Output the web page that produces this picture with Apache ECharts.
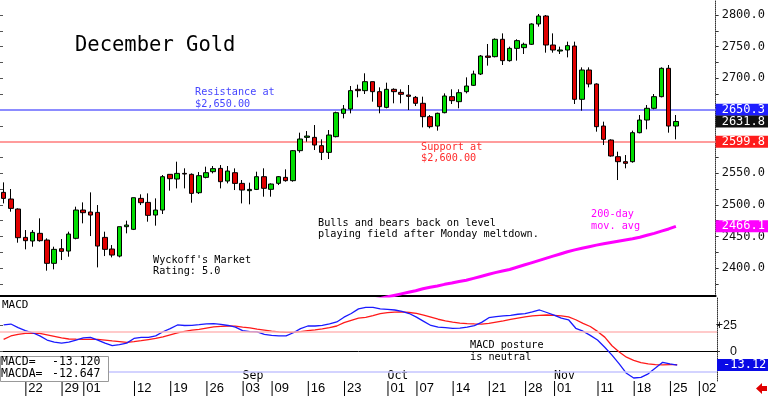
<!DOCTYPE html>
<html><head><meta charset="utf-8">
<script src="https://cdn.jsdelivr.net/npm/echarts@6/dist/echarts.min.js"></script>
<style>html,body{margin:0;padding:0;background:#fff}#c{width:768px;height:396px}</style>
</head><body><div id="c"></div>
<script>
const dates = ['07-17','07-18','07-19','07-22','07-23','07-24','07-25','07-26','07-29','07-30','07-31',
'08-01','08-02','08-05','08-06','08-07','08-08','08-09','08-12','08-13','08-14','08-15','08-16','08-19','08-20','08-21','08-22','08-23','08-26','08-27','08-28','08-29','08-30',
'09-03','09-04','09-05','09-06','09-09','09-10','09-11','09-12','09-13','09-16','09-17','09-18','09-19','09-20','09-23','09-24','09-25','09-26','09-27','09-30',
'10-01','10-02','10-03','10-04','10-07','10-08','10-09','10-10','10-11','10-14','10-15','10-16','10-17','10-18','10-21','10-22','10-23','10-24','10-25','10-28','10-29','10-30','10-31',
'11-01','11-04','11-05','11-06','11-07','11-08','11-11','11-12','11-13','11-14','11-15','11-18','11-19','11-20','11-21','11-22','11-25','11-26','11-27','11-29',
'12-02','12-03','12-04'];
const tickDates = ['07-22','07-29','08-01','08-12','08-19','08-26','09-03','09-09','09-16','09-23','10-01','10-07','10-14','10-21','10-28','11-01','11-11','11-18','11-25','12-02'];
const monthLabels = {'09-03':'Sep','10-01':'Oct','11-01':'Nov'};

const opens = [2519.8,2509.3,2493.5,2448.7,2443.0,2455.1,2444.5,2407.7,2430.8,2427.1,
2447.2,2491.9,2488.8,2488.2,2448.7,2430.3,2419.2,2465.6,2461.4,2510.3,
2504.0,2484.0,2491.9,2548.3,2540.9,2549.8,2548.3,2519.3,2543.5,2552.5,
2557.7,2537.7,2550.9,2534.0,2522.5,2524.5,2544.6,2524.6,2534.1,2543.5,
2538.3,2585.7,2606.7,2606.7,2593.6,2583.0,2607.8,2644.6,2651.5,2682.6,
2680.5,2694.7,2678.9,2654.1,2682.6,2677.8,2673.6,2669.9,2660.5,2639.4,
2624.6,2645.7,2671.0,2663.1,2678.9,2688.9,2706.8,2735.2,2734.2,2761.6,
2727.9,2747.3,2748.4,2753.7,2785.8,2798.4,2752.6,2743.1,2744.7,2751.0,
2666.8,2713.1,2691.0,2624.6,2602.5,2576.2,2568.3,2568.3,2614.1,2634.1,
2652.6,2671.0,2715.8,2624.6];
const closes = [2510.3,2494.5,2448.2,2443.5,2456.6,2443.5,2407.7,2429.8,2426.6,2454.0,
2491.9,2487.7,2484.0,2435.0,2429.8,2420.8,2465.6,2468.2,2511.4,2503.5,
2483.5,2491.9,2544.6,2541.4,2549.8,2548.8,2518.2,2546.2,2550.9,2557.3,
2536.7,2553.5,2534.0,2523.5,2524.5,2544.6,2526.2,2533.0,2544.6,2538.3,
2585.7,2604.1,2608.8,2594.6,2583.0,2610.4,2645.7,2651.5,2680.5,2680.5,
2694.7,2678.9,2655.2,2682.6,2678.9,2674.7,2671.5,2660.5,2639.4,2623.6,
2644.7,2672.0,2664.7,2677.3,2687.8,2706.8,2735.2,2733.1,2761.6,2727.9,
2747.3,2759.5,2753.7,2785.8,2798.4,2752.6,2744.7,2744.7,2751.6,2666.8,
2713.1,2691.0,2623.6,2603.6,2577.3,2568.3,2565.7,2614.1,2634.1,2652.6,
2671.0,2715.8,2624.6,2631.8];
const lows = [2502.4,2489.3,2440.3,2429.8,2434.0,2441.9,2396.1,2398.2,2412.9,2418.2,
2445.6,2470.9,2450.8,2401.3,2419.2,2417.1,2417.1,2455.1,2460.3,2499.8,
2473.5,2467.2,2485.6,2522.5,2526.1,2526.1,2503.5,2517.2,2541.9,2549.8,
2526.1,2534.0,2523.5,2502.4,2500.9,2523.5,2513.0,2513.0,2531.4,2536.7,
2536.7,2582.5,2599.9,2586.7,2570.9,2572.5,2606.7,2636.7,2644.6,2670.0,
2675.2,2663.1,2644.7,2652.6,2660.5,2660.5,2649.9,2656.2,2622.5,2621.0,
2617.3,2644.7,2659.4,2652.6,2676.2,2687.8,2705.2,2720.0,2733.1,2721.0,
2726.3,2727.9,2738.4,2752.6,2781.6,2740.5,2740.5,2738.4,2733.1,2659.4,
2648.9,2685.7,2615.7,2594.6,2576.2,2539.3,2557.8,2566.7,2613.1,2619.4,
2651.0,2669.9,2614.1,2603.6];
const highs = [2535.6,2525.1,2494.5,2460.3,2460.3,2478.8,2447.2,2434.0,2446.1,2457.7,
2497.2,2504.0,2519.8,2499.8,2457.7,2436.6,2465.6,2475.1,2511.4,2516.7,
2518.2,2510.3,2547.2,2548.3,2568.3,2557.8,2549.8,2551.9,2560.4,2561.4,
2563.0,2561.4,2557.7,2539.3,2535.1,2552.5,2557.8,2534.0,2545.6,2556.2,
2586.7,2614.1,2616.7,2626.2,2603.6,2618.3,2647.3,2657.8,2687.8,2690.0,
2707.9,2694.7,2685.7,2693.1,2684.2,2682.6,2689.4,2672.0,2671.0,2642.0,
2645.7,2676.2,2682.6,2682.6,2701.5,2712.1,2736.8,2754.2,2763.1,2771.0,
2750.0,2761.6,2756.3,2786.8,2801.6,2800.0,2771.0,2750.0,2757.9,2757.9,
2717.3,2717.3,2692.1,2631.5,2603.6,2584.1,2578.8,2617.3,2642.0,2657.8,
2675.2,2717.3,2721.0,2642.0];
const ma200 = [null,null,null,null,null,null,null,null,null,null,
null,null,null,null,null,null,null,null,null,null,
null,null,null,null,null,null,null,null,null,null,
null,null,null,null,null,null,null,null,null,null,
null,null,null,null,null,null,null,null,null,null,
2347,2349.5,2352,2354.5,2357,2359.5,2362,2364.5,2367.5,2370,
2372,2374.5,2376.5,2379,2381,2384,2387,2390,2393,2395.5,
2398,2401.5,2405,2408.5,2412,2415.5,2419,2422.5,2426,2429,
2431.5,2434,2436.5,2438.5,2440.5,2442.5,2444.5,2446.5,2449,2452,
2455,2458.5,2462,2466.1];
const macd = [25.5,26.4,23,20,18,15,11,9,8,9,
11,13,13.6,11,8,5.6,6.5,8,12.5,13.5,
13.6,15,19,22,25.5,25,25.2,25.8,26.5,26.8,
26,25,23.5,20,19,18.8,16.5,15.5,15,15,
18,22,24.5,24.5,25.2,26.5,28.4,33,36.5,41,
42.5,42.5,41,40.5,39.9,38.5,36.5,33,29,25,
23.5,23,22.3,22.5,23.5,24.8,28,32.5,33.5,34.3,
34.8,35.8,36.5,38,39.9,37.5,35,32,30.5,22.3,
19.5,15.5,11.1,4,-3.5,-12,-21,-25.5,-24.9,-21.5,
-16,-10.4,-12,-13.12];
const macdSignal = [11.7,14.9,16.5,17.5,17.5,17.5,16,14.5,13,12,
11.8,11.7,11.7,11.7,11,10.1,9.5,8.8,9.5,10.4,
11.5,12.5,14,16,18,19.3,20.5,21.3,22.5,23.6,
24.2,24.5,24.3,23.5,22.8,21.5,20.5,19.5,18.8,18.3,
18.4,19,20,20.8,21.8,22.9,24.5,27.7,30,32,
32.8,34.5,36.5,37.4,37.8,38,37.5,36.7,35,33,
31,29.5,28.3,27.3,26.8,26.5,26.4,27,28.2,29.4,
30.8,32,33.2,34.2,34.8,35.1,34.8,34.2,33.3,30.5,
27,24,19.3,13.8,5.5,-0.5,-5.5,-8.5,-10.8,-12,
-12.7,-12.8,-12.7,-12.647];
const priceLabels = [2400,2450,2500,2550,2600,2650,2700,2750,2800];
const priceTicks = [2375,2400,2425,2450,2475,2500,2525,2550,2575,2600,2625,2650,2675,2700,2725,2750,2775,2800];
const resistance = 2650.3, support = 2599.8, lastClose = 2631.8;
const macdLabels = [0,25];
const macdLevels = [18.5,-19.5];
const macdLast = -13.12, macdaLast = -12.647;

const MONO = '"DejaVu Sans Mono", monospace';
const SANS = '"Liberation Sans", Arial, sans-serif';
const candles = closes.map((c,i)=>[opens[i],c,lows[i],highs[i]]);
const boxLabel = (txt,bg)=>({show:true,position:'end',distance:0,formatter:txt,color:'#fff',backgroundColor:bg,
  fontFamily:MONO,fontSize:12,lineHeight:12,padding:[0,6,0,6]});
const hidden = {color:'rgba(0,0,0,0)',width:0};
const isTick = (i)=>tickDates.indexOf(dates[i])>=0;
const isMonth = (i)=>dates[i] in monthLabels;

const chart = echarts.init(document.getElementById('c'), null, {renderer:'canvas'});
chart.setOption({
  animation:false,
  backgroundColor:'#fff',
  title:{text:'December Gold',left:70,top:30,textStyle:{fontFamily:MONO,fontSize:20.5,fontWeight:'normal',color:'#000'}},
  grid:[{left:-1,right:51,top:0,height:296},{left:-1,right:51,top:297,height:84}],
  xAxis:[
    {type:'category',gridIndex:0,data:dates,boundaryGap:true,axisLine:{lineStyle:{color:'#000',width:2}},axisTick:{show:false},axisLabel:{show:false},splitLine:{show:false}},
    {type:'category',gridIndex:1,data:dates,boundaryGap:true,axisLine:{lineStyle:{color:'#000',width:1}},
      axisTick:{show:false},
      axisLabel:{interval:isTick,formatter:v=>'{b|}{d|'+v.slice(3)+'}',align:'left',margin:0,verticalAlign:'top',
        rich:{b:{width:1,height:15,backgroundColor:'#000'},d:{fontFamily:SANS,fontSize:13,color:'#000',padding:[0,0,0,2]}}}},
    {type:'category',gridIndex:1,data:dates,boundaryGap:true,position:'bottom',axisLine:{show:false},axisTick:{show:false},
      axisLabel:{inside:true,interval:isMonth,formatter:v=>monthLabels[v]||'',align:'left',margin:-1,fontFamily:MONO,fontSize:11.5,color:'#000'}}
  ],
  yAxis:[
    {type:'value',gridIndex:0,position:'right',min:2356.1,max:2823.7,splitLine:{show:false},
      axisLine:{show:true,lineStyle:{color:'#333',type:'dotted'}},
      axisTick:{show:true,customValues:priceTicks,length:3,lineStyle:{color:'#333'}},
      axisLabel:{customValues:priceLabels,formatter:v=>v.toFixed(1),margin:6,fontFamily:MONO,fontSize:12,color:'#111'}},
    {type:'value',gridIndex:0,position:'left',min:2356.1,max:2823.7,splitLine:{show:false},axisLine:{show:false},
      axisTick:{show:true,inside:true,customValues:priceTicks,length:3,lineStyle:{color:'#555'}},axisLabel:{show:false}},
    {type:'value',gridIndex:1,position:'right',min:-28.4,max:52.4,splitLine:{show:false},
      axisLine:{show:true,lineStyle:{color:'#333',type:'dotted'}},
      axisTick:{show:true,customValues:macdLabels,length:3,lineStyle:{color:'#333'}},
      axisLabel:{customValues:macdLabels,formatter:v=>v>0?'+'+v:''+v,align:'right',margin:20,fontFamily:SANS,fontSize:12.5,color:'#111'}},
    {type:'value',gridIndex:1,position:'left',min:-28.4,max:52.4,splitLine:{show:false},axisLine:{show:false},
      axisTick:{show:true,inside:true,customValues:macdLabels,length:3,lineStyle:{color:'#555'}},axisLabel:{show:false}}
  ],
  series:[
    {type:'candlestick',xAxisIndex:0,yAxisIndex:0,data:candles,barWidth:5,z:3,
      itemStyle:{color:'#00dd00',color0:'#e00000',borderColor:'#000',borderColor0:'#000',borderWidth:1},
      markLine:{silent:true,symbol:['none','none'],z:2,data:[
        {yAxis:resistance,lineStyle:{color:'#8c8cff',width:2,type:'solid'},label:boxLabel(resistance.toFixed(1),'#1e1eff')},
        {yAxis:support,lineStyle:{color:'#ff9c9c',width:2,type:'solid'},label:boxLabel(support.toFixed(1),'#ff1c1c')},
        {yAxis:lastClose,lineStyle:hidden,label:boxLabel(lastClose.toFixed(1),'#111')}
      ]}},
    {type:'line',xAxisIndex:0,yAxisIndex:0,data:ma200,showSymbol:false,symbol:'none',clip:true,
      lineStyle:{color:'#ff00ff',width:3},
      markLine:{silent:true,symbol:['none','none'],data:[
        {yAxis:ma200[ma200.length-1],lineStyle:hidden,label:boxLabel(ma200[ma200.length-1].toFixed(1),'#ff00ff')}
      ]}},
    {type:'line',xAxisIndex:1,yAxisIndex:2,data:macd,showSymbol:false,symbol:'none',z:4,
      lineStyle:{color:'#1a1aff',width:1.3},
      markLine:{silent:true,symbol:['none','none'],data:[
        {yAxis:macdLevels[0],lineStyle:{color:'#ffb8b8',width:1.5,type:'solid'},label:{show:false}},
        {yAxis:macdLevels[1],lineStyle:{color:'#c4c4ff',width:1.5,type:'solid'},label:{show:false}},
        {yAxis:macdLast,lineStyle:hidden,label:boxLabel(macdLast.toFixed(2),'#0a0ae6')}
      ]}},
    {type:'line',xAxisIndex:1,yAxisIndex:2,data:macdSignal,showSymbol:false,symbol:'none',z:3,
      lineStyle:{color:'#ff1a1a',width:1.3}}
  ],
  graphic:[
    {type:'text',left:195,top:87,z:100,style:{text:'Resistance at\n$2,650.00',fill:'#4646ff',font:'10.2px '+MONO,lineHeight:11.5}},
    {type:'text',left:421,top:141.5,z:100,style:{text:'Support at\n$2,600.00',fill:'#ff2a2a',font:'10.2px '+MONO,lineHeight:11.5}},
    {type:'text',left:318,top:217.5,z:100,style:{text:'Bulls and bears back on level\nplaying field after Monday meltdown.',fill:'#000',font:'10.2px '+MONO,lineHeight:11.5}},
    {type:'text',left:153,top:254.5,z:100,style:{text:"Wyckoff's Market\nRating: 5.0",fill:'#000',font:'10.2px '+MONO,lineHeight:11.5}},
    {type:'text',left:591,top:209,z:100,style:{text:'200-day\nmov. avg',fill:'#ff00ff',font:'10.2px '+MONO,lineHeight:11.5}},
    {type:'text',left:470,top:340,z:100,style:{text:'MACD posture\nis neutral',fill:'#000',font:'10.2px '+MONO,lineHeight:11.5}},
    {type:'text',left:2,top:299.5,z:100,style:{text:'MACD',fill:'#000',font:'11px '+MONO}},
    {type:'rect',left:0,top:356,z:100,shape:{width:108,height:25},style:{fill:'#fff',stroke:'#999',lineWidth:1}},
    {type:'text',left:1,top:356.5,z:101,style:{text:'MACD=\nMACDA=',fill:'#000',font:'11.5px '+MONO,lineHeight:12}},
    {type:'text',left:52,top:356.5,z:101,style:{text:macdLast.toFixed(3)+'\n'+macdaLast.toFixed(3),fill:'#000',font:'11.5px '+MONO,lineHeight:12}},
    {type:'polygon',z:100,shape:{points:[[767,386],[762,386],[762,383],[756,388.5],[762,394],[762,391],[767,391]]},style:{fill:'#e00000'}}
  ]
});
</script></body></html>
